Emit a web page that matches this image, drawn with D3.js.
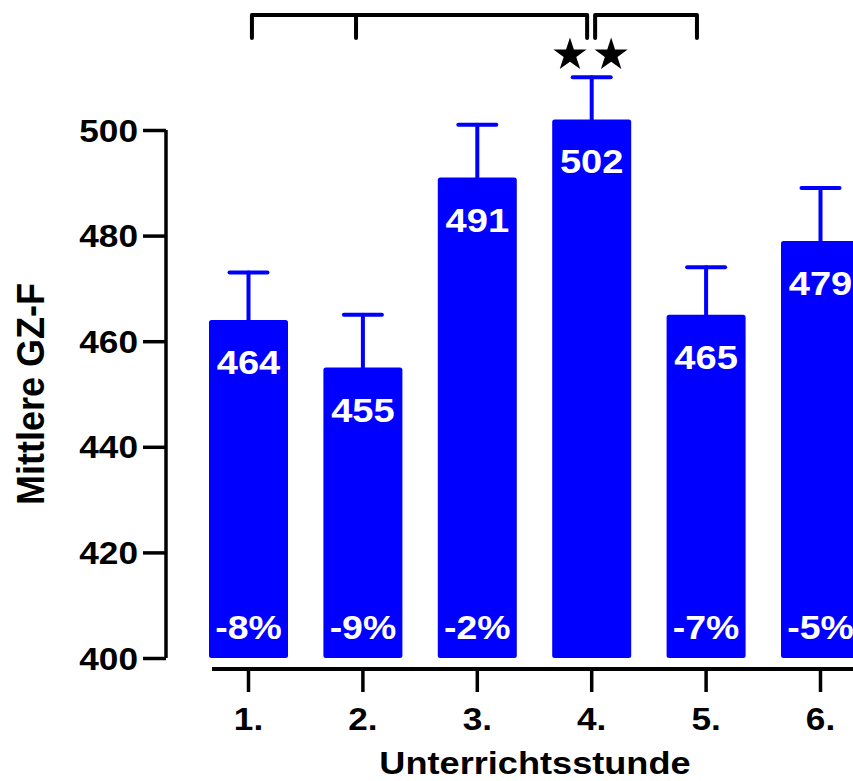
<!DOCTYPE html>
<html>
<head>
<meta charset="utf-8">
<script src="https://cdn.jsdelivr.net/npm/d3@7"></script>
<style>
  html, body { margin: 0; padding: 0; background: #fff; }
  svg { display: block; }
  text { font-family: "Liberation Sans", Arial, sans-serif; font-weight: bold; }
</style>
</head>
<body>
<svg id="chart" width="853" height="781"></svg>
<script>
// Mittlere GZ-F je Unterrichtsstunde
const categories = ["1.", "2.", "3.", "4.", "5.", "6."];
const means      = [464, 455, 491, 502, 465, 479];
const errorTops  = [473, 465, 501, 510, 474, 489];
const diffLabels = ["-8%", "-9%", "-2%", "", "-7%", "-5%"];
const yTicks     = [400, 420, 440, 460, 480, 500];
// Signifikanz-Klammern (Positionen auf der Kategorie-Achse, 1 = erste Stunde)
const bracketA   = [1.03, 1.94, 3.96];
const bracketB   = [4.03, 4.92];
const starPos    = [3.81, 4.17];

(function () {
  const svg = d3.select("#chart");
  const blue = "#0000ff";
  const stretch = 1.1;

  const y = d3.scaleLinear().domain([400, 500]).range([658, 130]);
  const xi = d3.scaleLinear().domain([1, 6]).range([248.5, 820.5]);
  const x = c => xi(categories.indexOf(c) + 1);
  const barW = 79;

  // Balken
  svg.append("g").selectAll("rect")
    .data(categories)
    .join("rect")
    .attr("x", c => x(c) - barW / 2)
    .attr("y", (c, i) => y(means[i]))
    .attr("width", barW)
    .attr("height", (c, i) => y(400) - y(means[i]))
    .attr("rx", 2.5)
    .attr("fill", blue);

  // Fehlerbalken
  const eb = svg.append("g").attr("stroke", blue).attr("stroke-width", 4).attr("stroke-linecap", "round");
  categories.forEach((c, i) => {
    eb.append("line").attr("x1", x(c)).attr("x2", x(c)).attr("y1", y(means[i])).attr("y2", y(errorTops[i]));
    eb.append("line").attr("x1", x(c) - 19).attr("x2", x(c) + 19).attr("y1", y(errorTops[i])).attr("y2", y(errorTops[i]));
  });

  function label(g, tx, ty, txt, size, fill, anchor, sx) {
    g.append("text")
      .attr("transform", `translate(${tx},${ty}) scale(${sx || stretch},1)`)
      .attr("text-anchor", anchor || "middle")
      .attr("font-size", size)
      .attr("fill", fill)
      .text(txt);
  }

  // Wertbeschriftungen
  const lab = svg.append("g");
  categories.forEach((c, i) => {
    label(lab, x(c), y(means[i]) + 54, String(means[i]), 34, "#fff", "middle", 1.12);
    if (diffLabels[i]) label(lab, x(c), y(400) - 19, diffLabels[i], 34, "#fff", "middle", 1.1);
  });

  // Y-Achse
  const yAxis = svg.append("g").attr("transform", "translate(166,0)")
    .call(d3.axisLeft(y).tickValues(yTicks).tickSize(23).tickPadding(6).tickSizeOuter(0));
  yAxis.select(".domain").attr("stroke", "#000").attr("stroke-width", 3.5)
    .attr("d", `M0,${y(500)}V${y(400)}`);
  yAxis.selectAll(".tick line").attr("stroke", "#000").attr("stroke-width", 3.5);
  yAxis.selectAll(".tick text").remove();
  yTicks.forEach(v => label(yAxis, -28, y(v) + 11.5, String(v), 32, "#000", "end"));

  // X-Achse
  const xAxis = svg.append("g").attr("transform", "translate(0,669)");
  xAxis.append("line").attr("x1", 212).attr("x2", 900).attr("stroke", "#000").attr("stroke-width", 4);
  categories.forEach(c => {
    xAxis.append("line").attr("x1", x(c)).attr("x2", x(c)).attr("y1", 0).attr("y2", 23)
      .attr("stroke", "#000").attr("stroke-width", 3.5);
    label(xAxis, x(c), 61, c, 32, "#000");
  });

  // Achsentitel
  label(svg, 535, 774, "Unterrichtsstunde", 32, "#000", "middle", 1.13);
  svg.append("text")
    .attr("transform", `translate(44,394) scale(1.08,1) rotate(-90)`)
    .attr("text-anchor", "middle")
    .attr("font-size", 36)
    .attr("fill", "#000")
    .text("Mittlere GZ-F");

  // Signifikanz-Klammern
  const topY = 15, dropY = 38;
  const br = svg.append("g").attr("fill", "none").attr("stroke", "#000")
    .attr("stroke-width", 4).attr("stroke-linejoin", "round").attr("stroke-linecap", "round");
  br.append("path").attr("d",
    `M${xi(bracketA[0])},${dropY}V${topY}H${xi(bracketA[2])}V${dropY}M${xi(bracketA[1])},${topY}V${dropY}`);
  br.append("path").attr("d",
    `M${xi(bracketB[0])},${dropY}V${topY}H${xi(bracketB[1])}V${dropY}`);

  // Sterne
  const star = d3.symbol(d3.symbolStar).size(340);
  svg.append("g").selectAll("path")
    .data(starPos)
    .join("path")
    .attr("transform", p => `translate(${xi(p)},55)`)
    .attr("d", star)
    .attr("fill", "#000");
})();
</script>
</body>
</html>
